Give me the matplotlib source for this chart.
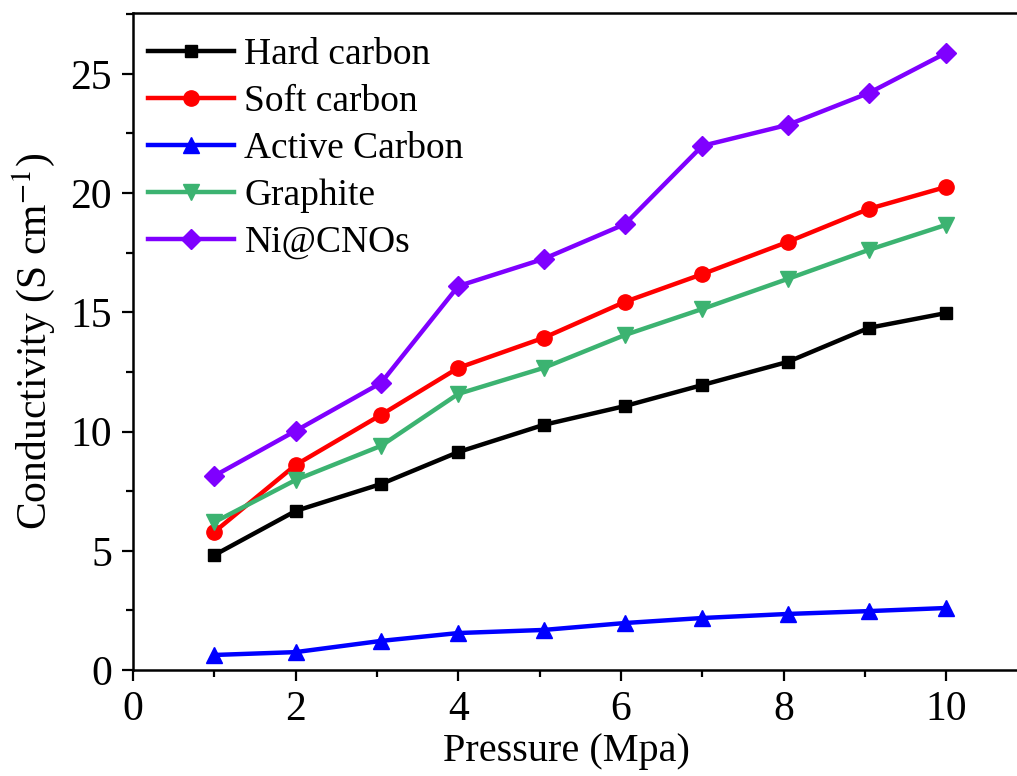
import matplotlib
matplotlib.use("Agg")
import matplotlib.pyplot as plt
from matplotlib.ticker import MultipleLocator

# Pressure (MPa)
pressure = [1, 2, 3.05, 4, 5.05, 6.05, 7, 8.05, 9.05, 10]

# Conductivity (S cm^-1)
hard_carbon = [4.82, 6.67, 7.80, 9.14, 10.28, 11.07, 11.95, 12.92, 14.35, 14.97]
soft_carbon = [5.79, 8.60, 10.70, 12.67, 13.93, 15.44, 16.60, 17.95, 19.34, 20.26]
active_carbon = [0.63, 0.75, 1.22, 1.55, 1.68, 1.97, 2.18, 2.35, 2.47, 2.60]
graphite = [6.20, 7.97, 9.40, 11.58, 12.67, 14.05, 15.14, 16.40, 17.62, 18.67]
ni_cnos = [8.14, 10.03, 12.04, 16.10, 17.24, 18.70, 21.98, 22.86, 24.20, 25.88]

series = [
    ("Hard carbon", hard_carbon, "#000000", "s", 9),
    ("Soft carbon", soft_carbon, "#ff0000", "o", 11),
    ("Active Carbon", active_carbon, "#0000ff", "^", 11),
    ("Graphite", graphite, "#3cb371", "v", 11),
    ("Ni@CNOs", ni_cnos, "#7f00ff", "D", 10),
]

plt.rcParams["font.family"] = ["Liberation Serif", "DejaVu Serif"]
plt.rcParams["mathtext.fontset"] = "stix"

fig = plt.figure(figsize=(10.17, 7.76), dpi=100)
ax = fig.add_axes([0.1308, 0.1366, 0.8692, 0.8466])

for label, vals, color, marker, ms in series:
    ax.plot(pressure, vals, color=color, marker=marker, markersize=ms,
            linewidth=3.2, label=label)

ax.set_xlim(0, 10.87)
ax.set_ylim(0, 27.55)
ax.xaxis.set_major_locator(MultipleLocator(2))
ax.xaxis.set_minor_locator(MultipleLocator(1))
ax.yaxis.set_major_locator(MultipleLocator(5))
ax.yaxis.set_minor_locator(MultipleLocator(2.5))
ax.tick_params(which="major", direction="out", length=8, width=1.6,
               labelsize=30, pad=7)
ax.tick_params(which="minor", direction="out", length=5, width=1.6)
for side in ("left", "bottom", "top"):
    ax.spines[side].set_linewidth(1.8)
ax.spines["right"].set_visible(False)

ax.set_xlabel("Pressure (Mpa)", fontsize=29)
ax.xaxis.set_label_coords(0.49, -0.096)
ax.set_ylabel("Conductivity (S cm$^{-1}$)", fontsize=30, labelpad=10)

ax.legend(loc="upper left", frameon=False, fontsize=27, handlelength=2.3,
          labelspacing=0.33, handletextpad=0.27, borderaxespad=0.0,
          bbox_to_anchor=(0.0, 0.985))

fig.savefig("out.png", dpi=100)
